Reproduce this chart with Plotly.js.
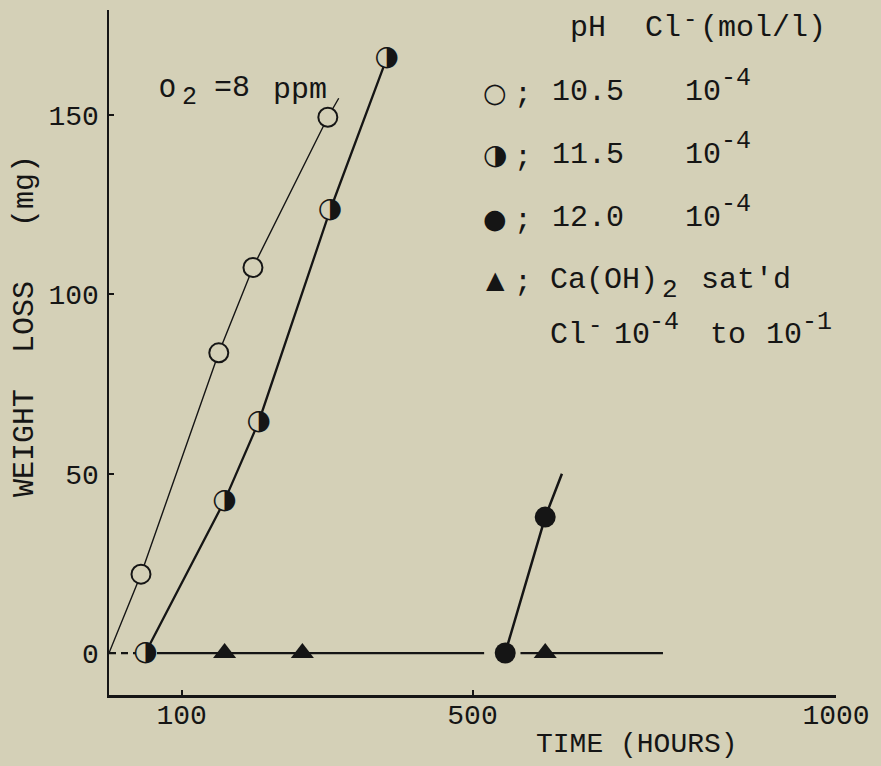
<!DOCTYPE html>
<html><head><meta charset="utf-8">
<script src="https://cdn.plot.ly/plotly-3.0.1.min.js"></script>
<style>html,body{margin:0;padding:0;background:#d4d0b7;}</style>
</head><body><div id="chart" style="width:881px;height:766px;"></div>
<script>
// ---- data ----
const open105Time = [44, 151, 198, 301];          // pH 10.5, open circles
const open105Loss = [22, 83.7, 107.5, 149.4];
const open105LineStartTime = 0, open105LineStartLoss = 0;
const open105LineEndTime = 316, open105LineEndLoss = 154.7;

const half115Time = [50, 159, 206, 304, 382];     // pH 11.5, half-filled circles
const half115Loss = [0, 42.5, 64.5, 123.4, 165.8];

const full120Time = [545, 600];                   // pH 12.0, filled circles
const full120Loss = [0, 37.9];
const full120LineEndTime = 623, full120LineEndLoss = 50;

const caTime = [159, 266, 600];                   // Ca(OH)2 sat'd, triangles
const caLoss = [0, 0, 0];
const caLineTime = [66, 516, null, 566, 762];
const caLineLoss = [0, 0, null, 0, 0];

const xTickVals = [100, 500, 1000];
const xTickText = ['100', '500', '1000'];
const yTickVals = [0, 50, 100, 150];
const yTickText = ['0', '50', '100', '150'];

// ---- styling ----
const BG = '#d4d0b7';
const INK = '#151515';
const MONO = 'Liberation Mono, Courier New, monospace';
const SYM = 'DejaVu Sans';
const W = 881, H = 766;
const M = {l: 109, r: 45, t: 10, b: 71};
const PW = W - M.l - M.r, PH = H - M.t - M.b;
const px = x => (x - M.l) / PW;
const py = y => (H - M.b - y) / PH;

const traces = [
  {x: [open105LineStartTime].concat(open105Time, [open105LineEndTime]),
   y: [open105LineStartLoss].concat(open105Loss, [open105LineEndLoss]),
   mode: 'lines', line: {color: INK, width: 1.4}},
  {x: half115Time, y: half115Loss, mode: 'lines', line: {color: INK, width: 2.3}},
  {x: [open105LineStartTime, half115Time[0]], y: [open105LineStartLoss, half115Loss[0]],
   mode: 'lines', line: {color: INK, width: 2.2, dash: '7px,5px'}},
  {x: full120Time.concat([full120LineEndTime]), y: full120Loss.concat([full120LineEndLoss]),
   mode: 'lines', line: {color: INK, width: 2.5}},
  {x: caLineTime, y: caLineLoss, mode: 'lines', line: {color: INK, width: 2.3}, connectgaps: false},
  {x: open105Time, y: open105Loss, mode: 'markers',
   marker: {symbol: 'circle', size: 19, color: BG, line: {color: INK, width: 2}}},
  {x: half115Time, y: half115Loss, mode: 'markers',
   marker: {symbol: 'circle', size: 19, color: BG, line: {width: 0}}},
  {x: half115Time, y: half115Loss, mode: 'text', text: half115Time.map(() => '\u25D1'),
   textposition: 'middle center', textfont: {family: SYM, size: 28, color: INK}},
  {x: full120Time, y: full120Loss, mode: 'markers',
   marker: {symbol: 'circle', size: 21, color: INK}},
  {x: caTime, y: caLoss, mode: 'markers',
   marker: {symbol: 'triangle-up', size: 20, color: INK}}
];

function ann(text, x, y, size, opts) {
  return Object.assign({text: text, xref: 'paper', yref: 'paper', x: px(x), y: py(y),
    xanchor: 'left', yanchor: 'middle', showarrow: false,
    font: {family: MONO, size: size, color: INK}}, opts || {});
}
function sym(ch, x, y, size) {
  return ann(ch, x, y, size, {xanchor: 'center', font: {family: SYM, size: size, color: INK}});
}

const annotations = [
  // O2 = 8 ppm
  ann('O', 157, 89, 28), ann('2', 180, 98, 25), ann('=8', 212, 88, 30), ann('ppm', 271, 90, 30),
  // legend header
  ann('pH', 568, 28, 30),
  ann('Cl', 643, 28, 30), ann('-', 681, 20, 24), ann('(mol/l)', 698, 28, 30),
  // legend symbols
  sym('\u25CB', 495, 92, 27), sym('\u25D1', 495, 155, 28), sym('\u25CF', 495, 218, 27),
  sym('\u25B2', 495, 280, 24),
  ann(';', 512, 95, 30), ann(';', 512, 158, 30), ann(';', 512, 221, 30), ann(';', 512, 283, 30),
  ann('10.5', 550, 92, 30), ann('11.5', 550, 155, 30), ann('12.0', 550, 218, 30),
  ann('10', 683, 92, 30), ann('-4', 719, 78, 25),
  ann('10', 683, 155, 30), ann('-4', 719, 141, 25),
  ann('10', 683, 218, 30), ann('-4', 719, 204, 25),
  // Ca(OH)2 row
  ann('Ca(OH)', 548, 280, 30), ann('2', 660, 290, 26), ann('sat\'d', 699, 280, 30),
  ann('Cl', 548, 335, 30), ann('-', 586, 325, 24),
  ann('10', 612, 335, 30), ann('-4', 647, 322, 25),
  ann('to', 708, 335, 30),
  ann('10', 764, 335, 30), ann('-1', 800, 322, 25),
  // axis titles
  ann('WEIGHT\u00A0\u00A0LOSS\u00A0\u00A0\u00A0(mg)', 25, 326, 30, {xanchor: 'center', textangle: -90}),
  ann('TIME (HOURS)', 637, 745, 28, {xanchor: 'center'})
];

const layout = {
  width: W, height: H, margin: M,
  paper_bgcolor: BG, plot_bgcolor: BG, showlegend: false,
  xaxis: {range: [0, 1000], showgrid: false, zeroline: false, showline: true,
    linecolor: INK, linewidth: 2.5, ticks: 'inside', ticklen: 5, tickwidth: 2, tickcolor: INK,
    tickvals: xTickVals, ticktext: xTickText, ticklabelstandoff: -7,
    tickfont: {family: MONO, size: 28, color: INK}},
  yaxis: {range: [-11.7, 179.3], showgrid: false, zeroline: false, showline: true,
    linecolor: INK, linewidth: 2.5, ticks: 'inside', ticklen: 5, tickwidth: 2, tickcolor: INK,
    tickvals: yTickVals, ticktext: yTickText, ticklabelstandoff: 2,
    tickfont: {family: MONO, size: 28, color: INK}},
  annotations: annotations
};

Plotly.newPlot('chart', traces, layout, {staticPlot: true, displayModeBar: false});
</script></body></html>
